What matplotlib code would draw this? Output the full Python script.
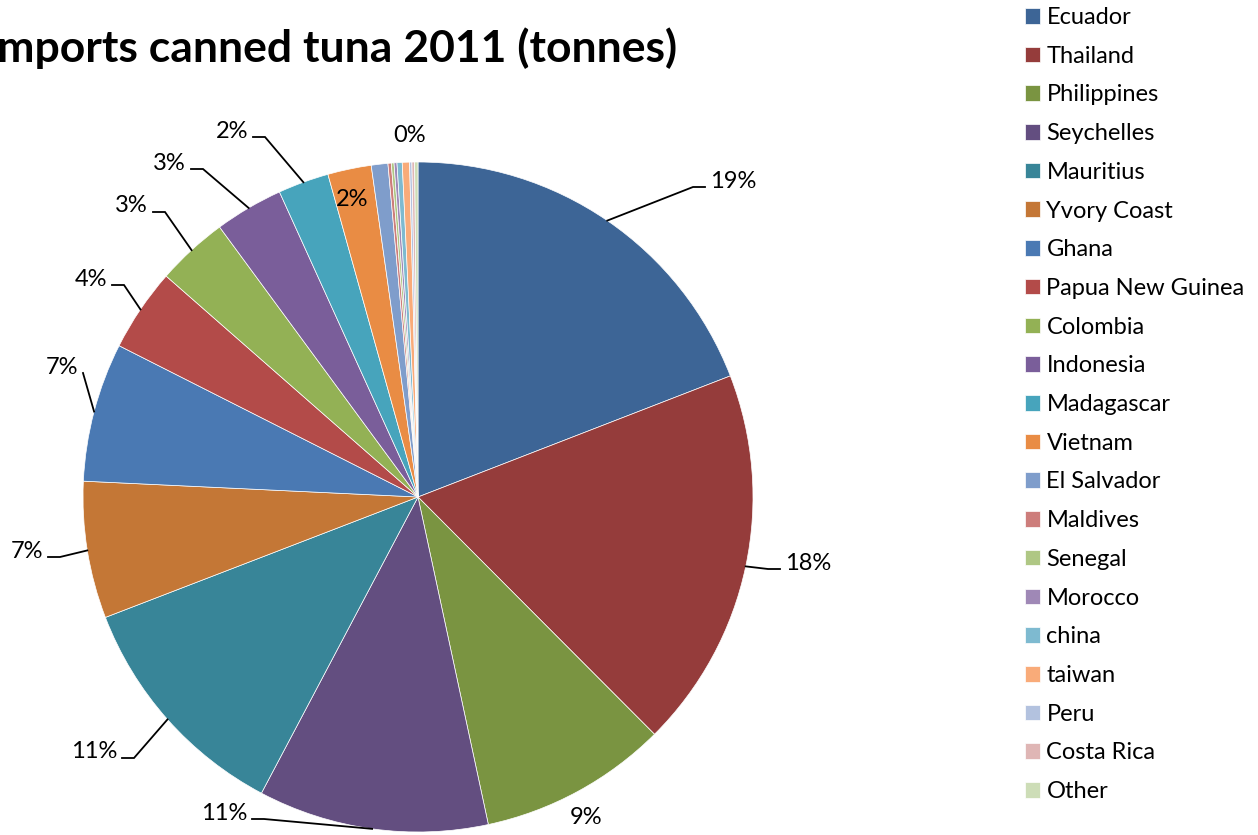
import matplotlib
matplotlib.use("Agg")
import matplotlib.pyplot as plt
import numpy as np

# canned tuna imports 2011, share by origin (%)
countries = ["Ecuador", "Thailand", "Philippines", "Seychelles", "Mauritius",
             "Yvory Coast", "Ghana", "Papua New Guinea", "Colombia", "Indonesia",
             "Madagascar", "Vietnam", "El Salvador", "Maldives", "Senegal",
             "Morocco", "china", "taiwan", "Peru", "Costa Rica", "Other"]
shares = [19.1, 18.4, 9.1, 11.1, 11.4,
          6.6, 6.7, 4.0, 3.45, 3.3,
          2.45, 2.1, 0.8, 0.16, 0.13,
          0.14, 0.25, 0.35, 0.11, 0.13, 0.16]
colors = ["#3D6596", "#953C3B", "#7A9441", "#634E80", "#388598",
          "#C47736", "#4A79B3", "#B34B49", "#93B155", "#7A5E9A",
          "#47A4BC", "#E98C44", "#7F9DCB", "#CD7D7B", "#AFC784",
          "#9F88B6", "#7EBAD0", "#F9AB79", "#B3C2DF", "#DFB6B5", "#CDDDB7"]

plt.rcParams['font.family'] = ['Lato', 'DejaVu Sans']

W, H = 1258, 835
CX, CY, R = 418, 497, 335   # pie centre and radius in pixels

fig = plt.figure(figsize=(W / 100, H / 100), dpi=100)
ax = fig.add_axes([0, 0, 1, 1])

wedges, _ = ax.pie(shares, colors=colors, startangle=90, counterclock=False,
                   radius=1, wedgeprops=dict(edgecolor="white", linewidth=0.5))

ax.set_xlim(-CX / R, (W - CX) / R)
ax.set_ylim(-(H - CY) / R, CY / R)
ax.set_aspect("equal")
ax.axis("off")


def px(x, y):
    return (x - CX) / R, (CY - y) / R


vals = np.array(shares)
pct = vals / vals.sum() * 100
cum = np.cumsum(vals) / vals.sum()
mid = 360 * (cum - vals / vals.sum() / 2)   # clockwise from top

# label placement: index -> (text x px, text y px, alignment, horizontal leader length or None)
label_layout = {
    0: (710, 181, "left", 12),
    1: (785, 563, "left", 12),
    2: (586, 817, "center", None),
    3: (247, 813, "right", 12),
    4: (117, 752, "right", 12),
    5: (43, 551, "right", 12),
    6: (78, 367, "right", 0),
    7: (107, 279, "right", 12),
    8: (148, 206, "right", 12),
    9: (186, 163, "right", 12),
    10: (248, 131, "right", 12),
    11: (352, 200, "center", None),
    20: (410, 135, "center", None),
}

for i, (tx, ty, ha, hlen) in label_layout.items():
    x, y = px(tx, ty)
    ax.text(x, y, f"{round(pct[i]):.0f}%", ha=ha, va="center", fontsize=17, color="black")
    if hlen is not None:
        a = np.radians(mid[i])
        sx, sy = np.sin(a), np.cos(a)
        ly = ty + 6
        if ha == "left":
            end_x, elbow_x = tx - 5, tx - 5 - hlen
        else:
            end_x, elbow_x = tx + 5, tx + 5 + hlen
        ex, ey = px(end_x, ly)
        bx, by = px(elbow_x, ly)
        ax.plot([sx, bx, ex], [sy, by, ey], color="black", lw=1.3,
                solid_joinstyle="miter")

fig.text(677 / W, 1 - 48 / H, "Imports canned tuna 2011 (tonnes)", ha="right", va="center",
         fontsize=32, fontweight="bold")

fig.legend(wedges, countries, loc="upper left", bbox_to_anchor=(1025 / W, 1 - 7 / H),
           frameon=False, fontsize=17, handlelength=0.64, handleheight=0.64,
           handletextpad=0.27, labelspacing=0.75, borderpad=0, borderaxespad=0)

fig.savefig("out.png", dpi=100)
